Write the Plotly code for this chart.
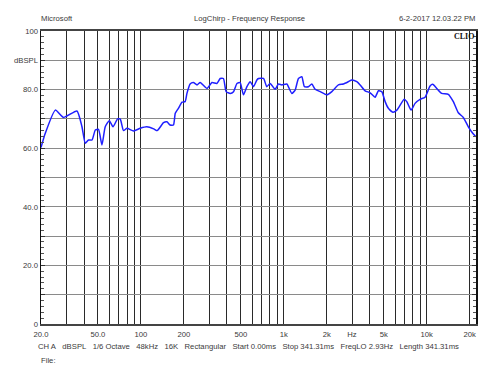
import numpy as np
import plotly.graph_objects as go

# Frequency response points
freq_hz = [20.0, 21.4, 25.2, 28.8, 35.7, 38.7, 40.8, 43.0, 45.5, 48.0, 50.5, 53.4, 56.3, 60.1,
           63.8, 68.7, 71.7, 75.6, 79.9, 88.8, 98.9, 110, 123, 130, 144, 152, 160, 169, 174,
           183, 194, 204, 210, 221, 233, 247, 260, 290, 314, 340, 359, 378, 395, 422, 445,
           470, 495, 522, 552, 582, 613, 648, 665, 721, 760, 802, 870, 917, 968, 1050, 1138,
           1200, 1266, 1337, 1394, 1486, 1570, 1656, 1796, 2000, 2168, 2410, 2612, 2832, 2992,
           3242, 3420, 3706, 4016, 4356, 4592, 4850, 5116, 5396, 5792, 6180, 6950, 7252, 7774,
           8286, 8980, 9732, 10552, 11020, 11752, 12736, 14160, 15352, 16640, 18038, 19556,
           20980, 22120]
spl_db = [60.2, 65.0, 73.0, 70.5, 72.7, 67.3, 61.7, 62.8, 62.8, 66.2, 66.4, 61.1, 67.3, 69.4,
          67.3, 70.0, 69.9, 66.0, 66.8, 65.9, 66.8, 67.3, 66.6, 66.0, 68.7, 69.0, 67.9, 67.9, 71.9,
          73.6, 75.7, 75.9, 78.7, 81.9, 82.4, 81.6, 82.4, 80.4, 82.4, 82.1, 83.8, 83.8, 79.3, 78.7, 79.3,
          82.1, 82.4, 78.2, 81.0, 82.7, 81.0, 83.3, 83.8, 83.8, 81.0, 82.1, 80.1, 81.9, 81.6, 81.9, 78.7,
          79.8, 83.8, 84.4, 81.0, 81.0, 81.9, 80.1, 79.3, 78.2, 79.3, 81.6, 81.9, 82.7, 83.3,
          82.7, 81.6, 79.6, 78.9, 77.4, 79.6, 79.3, 75.9, 73.6, 72.3, 73.0, 76.7, 75.9, 73.0,
          75.3, 76.7, 77.4, 81.2, 81.8, 80.4, 78.7, 78.4, 75.9, 72.1, 70.5, 67.3,
          65.1, 63.9]

grid_freqs = [20, 30, 40, 50, 60, 70, 80, 90, 100, 200, 300, 400, 500, 600, 700, 800, 900,
              1000, 2000, 3000, 4000, 5000, 6000, 7000, 8000, 9000, 10000, 20000]
freq_labels = {20: "20.0", 50: "50.0", 100: "100", 200: "200", 500: "500", 1000: "1k",
               2000: "2k", 3000: "Hz", 5000: "5k", 10000: "10k", 20000: "20k"}
db_ticks = [0, 10, 20, 30, 40, 50, 60, 70, 80, 90, 100]
db_labels = {0: "0", 20: "20.0", 40: "40.0", 60: "60.0", 80: "80.0", 90: "dBSPL", 100: "100"}

header_left = "Microsoft"
header_mid = "LogChirp - Frequency Response"
header_right = "6-2-2017 12.03.22 PM"
footer_items = ["CH A", "dBSPL", "1/6 Octave", "48kHz", "16K", "Rectangular", "Start 0.00ms",
                "Stop 341.31ms", "FreqLO 2.93Hz", "Length 341.31ms"]

FONT = "Liberation Sans, Arial, sans-serif"
TXT = "#3a3a3a"
FS = 7.7

fig = go.Figure()
fig.add_trace(go.Scatter(x=freq_hz, y=spl_db, mode="lines",
                         line=dict(color="#1f1fff", width=1.5, shape="spline", smoothing=0.5),
                         hoverinfo="skip", showlegend=False))
# invisible trace for the right axis
fig.add_trace(go.Scatter(x=[freq_hz[0]], y=[spl_db[0]], yaxis="y2", mode="lines",
                         line=dict(width=0), hoverinfo="skip", showlegend=False))

x0 = np.log10(20)
x1 = np.log10(22120)

W, H = 500, 373
l, r, t, b = 41, 24, 31, 49

fig.update_layout(
    width=W, height=H,
    margin=dict(l=l, r=r, t=t, b=b, autoexpand=False),
    paper_bgcolor="white", plot_bgcolor="white",
    font=dict(family=FONT, size=FS, color=TXT),
    xaxis=dict(type="log", range=[x0, x1], automargin=False,
               tickvals=grid_freqs,
               ticktext=[freq_labels.get(f, "") for f in grid_freqs],
               showgrid=True, gridcolor="#2a2a2a", gridwidth=1,
               showline=True, linecolor="#444", linewidth=2, mirror=True,
               ticks="", ticklabelstandoff=2,
               tickfont=dict(size=FS, color=TXT, family=FONT),
               zeroline=False, fixedrange=True),
    yaxis=dict(range=[0, 100], tickvals=db_ticks, automargin=False,
               ticktext=[db_labels.get(v, "") for v in db_ticks],
               showgrid=True, gridcolor="#8a8a8a", gridwidth=1,
               showline=True, linecolor="#111", linewidth=1.5,
               ticks="inside", ticklen=4, tickcolor="#333",
               minor=dict(dtick=2, ticks="inside", ticklen=3, tickcolor="#555", showgrid=False),
               tickfont=dict(size=FS, color=TXT, family=FONT),
               zeroline=False, fixedrange=True),
    yaxis2=dict(range=[0, 100], overlaying="y", side="right", tickvals=db_ticks,
                showticklabels=False, showgrid=False, automargin=False,
                showline=True, linecolor="#111", linewidth=1.5,
                ticks="inside", ticklen=4, tickcolor="#333",
                minor=dict(dtick=2, ticks="inside", ticklen=3, tickcolor="#555", showgrid=False),
                zeroline=False, fixedrange=True),
)

gap = "\u00a0\u00a0\u00a0"
footer_text = gap.join(footer_items)

ann = []
ann.append(dict(x=40, y=18, text=header_left, xanchor="left", yanchor="middle", showarrow=False))
ann.append(dict(x=249, y=18, text=header_mid, xanchor="center", yanchor="middle", showarrow=False))
ann.append(dict(x=477, y=18, text=header_right, xanchor="right", yanchor="middle", showarrow=False))
ann.append(dict(x=475, y=37, text="<b>CLIO</b>", xanchor="right", yanchor="middle", showarrow=False,
                font=dict(family="Liberation Serif, Times New Roman, serif", size=8, color="#111")))
ann.append(dict(x=37, y=346, text=footer_text, xanchor="left", yanchor="middle", showarrow=False))
ann.append(dict(x=40, y=360, text="File:", xanchor="left", yanchor="middle", showarrow=False))

# convert pixel positions to paper coordinates
pw, ph = W - l - r, H - t - b
for a in ann:
    a["xref"] = "paper"
    a["yref"] = "paper"
    a["x"] = (a["x"] - l) / pw
    a["y"] = 1 - (a["y"] - t) / ph
    a.setdefault("font", dict(family=FONT, size=FS, color=TXT))
    a["borderpad"] = 0
fig.update_layout(annotations=ann)

fig.write_html("out.html", config={"displayModeBar": False, "staticPlot": True},
               post_script="document.body.style.margin='0';")
